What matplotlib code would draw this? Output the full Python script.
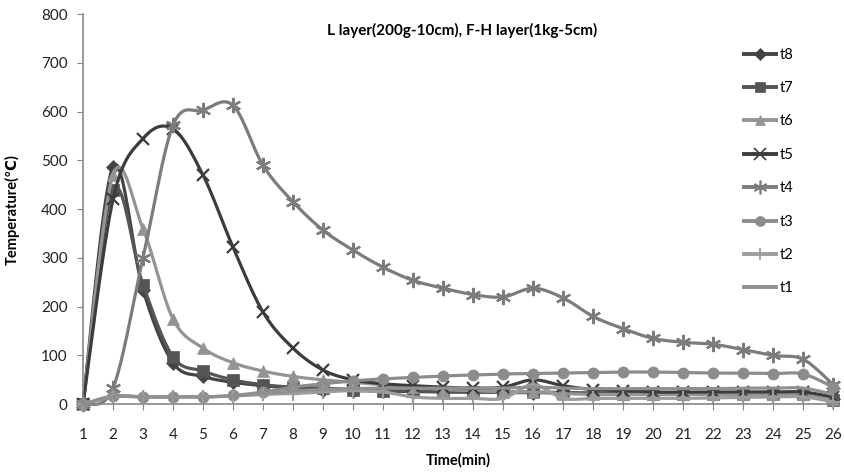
"""Temperature curves t1-t8 for L layer / F-H layer burn test."""
import numpy as np
import matplotlib
matplotlib.use("Agg")
import matplotlib.pyplot as plt

plt.rcParams["font.family"] = ["Lato", "DejaVu Sans"]

minutes = list(range(1, 27))

t8 = [0, 487, 235, 85, 57, 45, 38, 33, 30, 28, 27, 26, 25, 25, 24, 24, 23, 22, 22, 21, 21, 21, 21, 21, 21, 10]
t7 = [0, 440, 245, 97, 68, 50, 40, 35, 33, 30, 28, 27, 26, 25, 25, 25, 24, 23, 22, 22, 22, 22, 22, 22, 22, 8]
t6 = [0, 470, 360, 175, 115, 85, 68, 57, 50, 45, 40, 35, 30, 28, 25, 25, 22, 20, 20, 20, 20, 20, 20, 20, 20, 10]
t5 = [0, 420, 545, 565, 470, 322, 189, 115, 70, 50, 42, 38, 35, 33, 35, 50, 38, 30, 28, 25, 25, 25, 25, 25, 25, 15]
t4 = [0, 33, 300, 572, 603, 613, 490, 415, 357, 316, 281, 254, 238, 225, 220, 238, 218, 180, 155, 135, 127, 123, 112, 100, 92, 40]
t3 = [0, 17, 15, 15, 15, 18, 25, 35, 42, 48, 52, 55, 58, 60, 62, 63, 64, 65, 66, 66, 65, 64, 64, 63, 62, 35]
t2 = [0, 15, 15, 15, 15, 17, 20, 22, 25, 28, 25, 15, 12, 12, 12, 40, 12, 12, 12, 12, 12, 13, 14, 15, 15, 5]
t1 = [0, 15, 15, 15, 15, 17, 22, 27, 30, 32, 33, 33, 33, 33, 33, 35, 33, 32, 32, 32, 32, 32, 33, 33, 33, 20]

series = [
    ("t8", t8, "#444444", "D", 7),
    ("t7", t7, "#555555", "s", 8),
    ("t6", t6, "#949494", "^", 8),
    ("t5", t5, "#3c3c3c", "x", 9),
    ("t4", t4, "#7c7c7c", (6, 2, 0), 11),
    ("t3", t3, "#8c8c8c", "o", 8),
    ("t2", t2, "#9c9c9c", "+", 10),
    ("t1", t1, "#909090", None, 0),
]


def smooth(x, y, n=20):
    # Excel-like smoothed line (Catmull-Rom / Bezier with 1/6 tangents)
    x = np.asarray(x, float)
    y = np.asarray(y, float)
    px = np.concatenate([[x[0]], x, [x[-1]]])
    py = np.concatenate([[y[0]], y, [y[-1]]])
    xs, ys = [], []
    t = np.linspace(0, 1, n, endpoint=False)
    for i in range(1, len(px) - 2):
        p0 = np.array([px[i], py[i]])
        p3 = np.array([px[i + 1], py[i + 1]])
        p1 = p0 + (p3 - np.array([px[i - 1], py[i - 1]])) / 6
        p2 = p3 - (np.array([px[i + 2], py[i + 2]]) - p0) / 6
        b = ((1 - t) ** 3)[:, None] * p0 + (3 * (1 - t) ** 2 * t)[:, None] * p1 \
            + (3 * (1 - t) * t ** 2)[:, None] * p2 + (t ** 3)[:, None] * p3
        xs.extend(b[:, 0])
        ys.extend(b[:, 1])
    xs.append(x[-1])
    ys.append(y[-1])
    return xs, ys


fig = plt.figure(figsize=(8.44, 4.75), dpi=100)
ax = fig.add_axes([0.0983, 0.149, 0.889, 0.821])

handles = []
for name, vals, color, marker, ms in series:
    sx, sy = smooth(minutes, vals)
    ax.plot(sx, sy, color=color, lw=2.3, solid_capstyle="round", clip_on=False)
    if marker is not None:
        ax.plot(minutes, vals, ls="none", marker=marker, color=color, clip_on=False,
                markersize=ms, markeredgewidth=1.6 if marker in ("x", "+", (6, 2, 0)) else 0.5)
    h, = ax.plot([], [], color=color, lw=2.8, marker=marker, markersize=ms,
                 markeredgewidth=1.2 if marker in ("x", "+", (6, 2, 0)) else 0.5)
    handles.append(h)

ax.set_xlim(1, 26)
ax.set_ylim(0, 800)
ax.set_xticks(minutes)
ax.set_yticks(range(0, 801, 100))
ax.tick_params(labelsize=11, length=4, color="#888888", labelcolor="#222222")
ax.tick_params(axis="x", pad=13)
ax.tick_params(axis="y", pad=7)
for side in ("top", "right"):
    ax.spines[side].set_visible(False)
for side in ("left", "bottom"):
    ax.spines[side].set_color("#888888")
    ax.spines[side].set_linewidth(1.2)

ax.set_xlabel("Time(min)", fontsize=10.5, fontweight="bold", labelpad=8)
ax.set_ylabel("Temperature(℃)", fontsize=10.5, fontweight="bold")
ax.yaxis.set_label_coords(-0.084, 0.5)
fig.text(0.548, 0.935, "L layer(200g-10cm), F-H layer(1kg-5cm)",
         ha="center", va="center", fontsize=11, fontweight="bold")

fig.legend(handles=handles, labels=[s[0] for s in series], loc="upper left",
           bbox_to_anchor=(0.875, 0.912), frameon=False, fontsize=10.5,
           handlelength=2.2, handletextpad=0.2, labelspacing=1.33,
           borderaxespad=0, markerscale=0.9)

fig.savefig("out.png", dpi=100)
